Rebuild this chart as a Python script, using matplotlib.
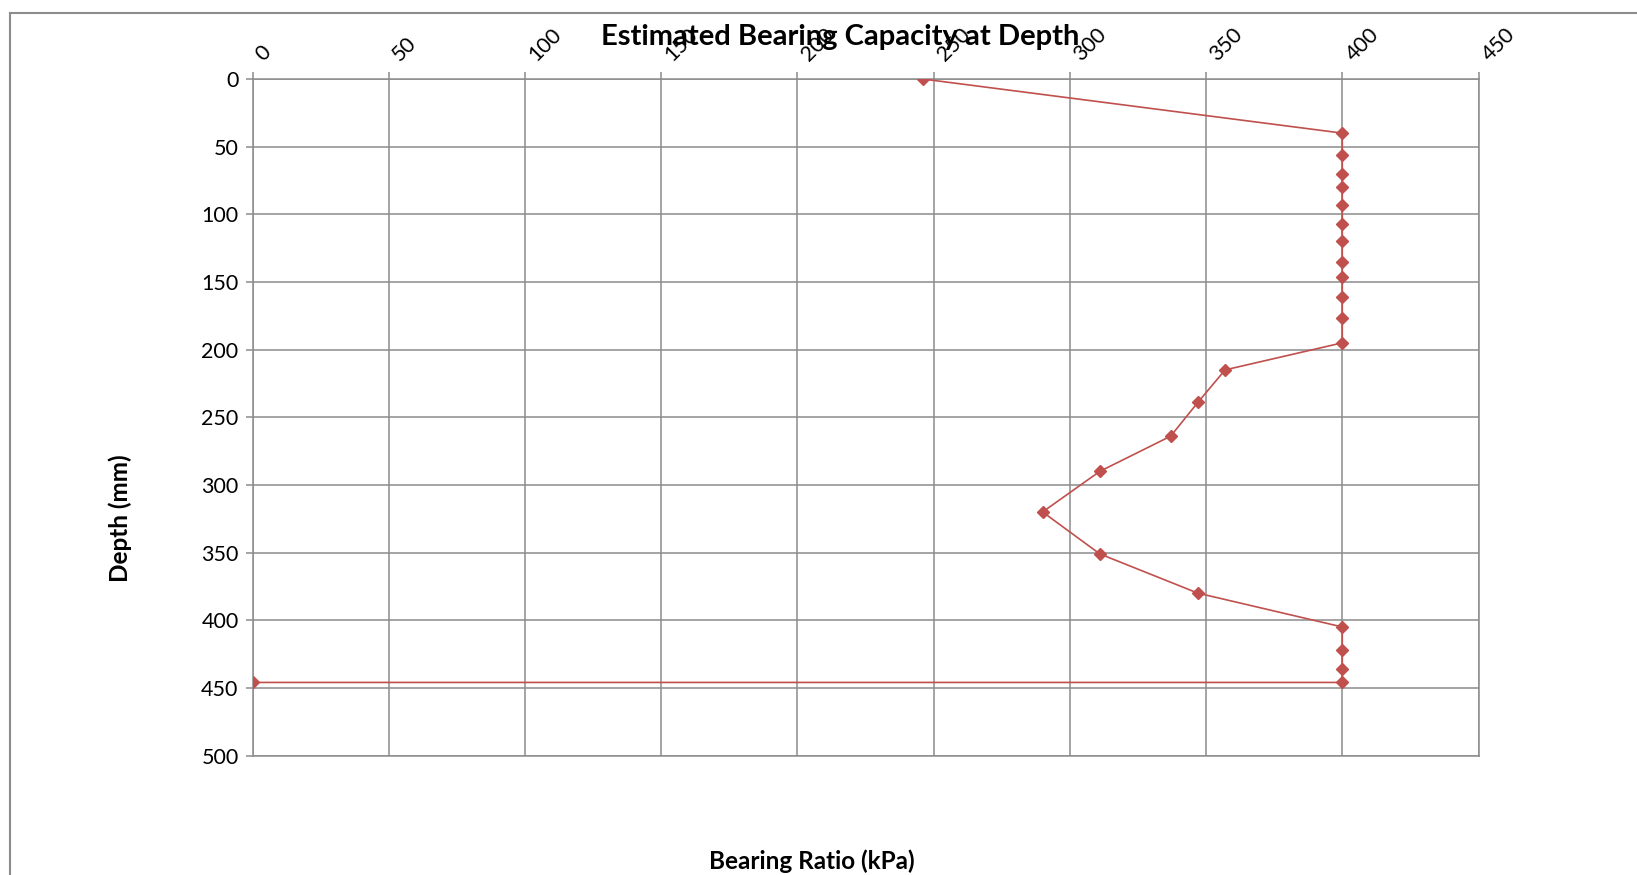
import matplotlib
matplotlib.use("Agg")
import matplotlib.pyplot as plt
from matplotlib.lines import Line2D

# depth (mm) and estimated bearing ratio (kPa)
depth = [0, 40, 56, 70, 80, 93, 107, 120, 135, 146, 161, 177, 195,
         215, 239, 264, 290, 320, 351, 380, 405, 422, 436, 446, 446]
bearing = [246, 400, 400, 400, 400, 400, 400, 400, 400, 400, 400, 400, 400,
           357, 347, 337, 311, 290, 311, 347, 400, 400, 400, 400, 0]

x_ticks = list(range(0, 451, 50))
y_ticks = list(range(0, 501, 50))

grid_col = '#8c8c8c'
line_col = '#C0504D'

plt.rcParams['font.family'] = ['Lato', 'DejaVu Sans']

W, H = 1637, 875
fig = plt.figure(figsize=(W / 100, H / 100), dpi=100)
ax = fig.add_axes([252.5 / W, 1 - 755.5 / H, (1478.5 - 252.5) / W, (755.5 - 79) / H])

ax.plot(bearing, depth, color=line_col, lw=1.2, marker='D', markersize=6.5,
        markerfacecolor=line_col, markeredgecolor=line_col, zorder=3)

ax.set_xlim(0, 450)
ax.set_ylim(500, 0)
ax.set_xticks(x_ticks)
ax.set_yticks(y_ticks)
ax.xaxis.tick_top()
ax.grid(True, color=grid_col, lw=1.1)
for s in ax.spines.values():
    s.set_color(grid_col)
    s.set_linewidth(1.1)
ax.tick_params(axis='both', colors=grid_col, labelcolor='black', length=5,
               width=1.1, labelsize=15.5)
ax.tick_params(axis='x', pad=5)
ax.tick_params(axis='y', pad=5)
for lbl in ax.get_xticklabels():
    lbl.set_rotation(45)
    lbl.set_ha('left')
    lbl.set_va('bottom')

fig.text(840 / W, 1 - 37.5 / H, 'Estimated Bearing Capacity at Depth',
         ha='center', va='center', fontsize=21, fontweight='bold')
fig.text(120 / W, 1 - 518 / H, 'Depth (mm)', rotation=90,
         ha='center', va='center', fontsize=17.5, fontweight='bold')
fig.text(812 / W, 1 - 861 / H, 'Bearing Ratio (kPa)',
         ha='center', va='center', fontsize=17.5, fontweight='bold')

# outer chart border (left and top edges visible)
fig.add_artist(Line2D([10 / W, 10 / W], [0, 1 - 13 / H], transform=fig.transFigure,
                      color=grid_col, lw=1.5))
fig.add_artist(Line2D([10 / W, 1], [1 - 13 / H, 1 - 13 / H], transform=fig.transFigure,
                      color=grid_col, lw=1.5))

fig.savefig('out.png', dpi=100)
